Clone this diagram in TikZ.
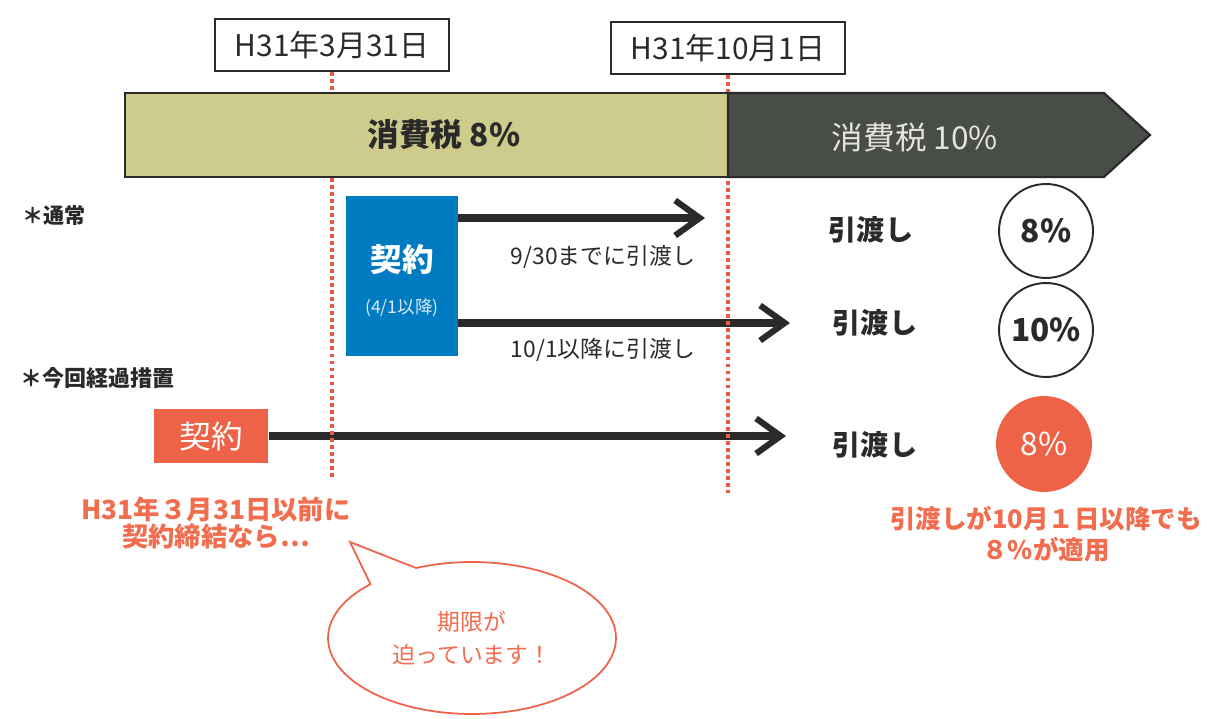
\documentclass[tikz,border=0pt]{standalone}
\usepackage{fontspec}
\setmainfont{Noto Sans CJK JP}
\usetikzlibrary{arrows.meta,shapes.callouts,positioning}
\definecolor{taxyellow}{RGB}{205,204,140}
\definecolor{taxdark}{RGB}{72,77,72}
\definecolor{contractblue}{RGB}{0,123,194}
\definecolor{contractorange}{RGB}{238,98,72}
\definecolor{noteorange}{RGB}{242,108,78}
\definecolor{dotred}{RGB}{236,88,70}
\definecolor{inkgray}{RGB}{42,42,42}

\begin{document}
\begin{tikzpicture}[x=0.02cm,y=-0.02cm,
    datebox/.style={draw=inkgray, line width=1.6pt, fill=white, text=inkgray, minimum width=4.68cm, minimum height=1.04cm, font=\fontsize{17pt}{20pt}\selectfont},
    flow/.style={draw=inkgray, line width=4pt, -{Straight Barb[length=14pt,width=20pt,line width=3.5pt]}},
    dotline/.style={dotred, line width=2.6pt, dash pattern=on 2.2pt off 1.8pt},
    handover/.style={text=inkgray, font=\fontsize{16pt}{19pt}\selectfont\bfseries},
    ratecircle/.style={circle, draw=inkgray, line width=1.1pt, minimum size=1.88cm, inner sep=0pt, text=inkgray, font=\fontsize{18pt}{20pt}\selectfont\bfseries},
    note/.style={align=center, text=noteorange, font=\fontsize{15pt}{15.5pt}\selectfont\bfseries}]

  \useasboundingbox (0,0) rectangle (1223,719);

  % date labels
  \node[datebox] (date1) at (332,45) {H31年3月31日};
  \node[datebox] (date2) at (728,48) {H31年10月1日};

  % contracts
  \node[fill=contractblue, minimum width=2.24cm, minimum height=3.22cm] (contract1) at (402,276) {};
  \node[text=white, font=\fontsize{18pt}{20pt}\selectfont\bfseries] (contract1txt) at (402,260) {契約};
  \node[text=white!85!contractblue, font=\fontsize{10pt}{12pt}\selectfont] (contract1date) at (402,308) {(4/1以降)};
  \node[fill=contractorange, minimum width=2.3cm, minimum height=1.08cm, text=white, font=\fontsize{18pt}{20pt}\selectfont] (contract2) at (211,436) {契約};

  % section headings
  \node[right, text=inkgray, font=\fontsize{12pt}{14pt}\selectfont\bfseries, inner sep=0pt] (normal) at (22,215) {＊通常};
  \node[right, text=inkgray, font=\fontsize{12.5pt}{14pt}\selectfont\bfseries, inner sep=0pt] (transition) at (20,378) {＊今回経過措置};

  % handover arrows
  \coordinate (end1) at (705,218);
  \coordinate (end2) at (790,323);
  \coordinate (end3) at (786,436);
  \draw[flow] (contract1.east |- end1) -- (end1);
  \draw[flow] (contract1.east |- end2) -- (end2);
  \draw[flow] (contract2.east) -- (end3);
  \node[text=inkgray, font=\fontsize{13pt}{15pt}\selectfont] (by930) at (603,257) {9/30までに引渡し};
  \node[text=inkgray, font=\fontsize{13pt}{15pt}\selectfont] (after101) at (603,350) {10/1以降に引渡し};

  % boundary lines
  \coordinate (dot1end) at (332,480);
  \coordinate (dot2end) at (728,493);
  \draw[dotline] (date1.south) -- (dot1end);
  \draw[dotline] (date2.south) -- (dot2end);

  % tax rate bar
  \draw[fill=taxyellow, draw=inkgray, line width=1.2pt] (125,93) rectangle (728,177);
  \draw[fill=taxdark, draw=inkgray, line width=1.2pt] (728,93) -- (1104,93) -- (1150,135) -- (1104,177) -- (728,177) -- cycle;
  \node[text=inkgray, font=\fontsize{18pt}{20pt}\selectfont\bfseries] (tax8) at (444,135) {消費税 8\%};
  \node[text={rgb,255:red,228;green,228;blue,218}, font=\fontsize{18pt}{20pt}\selectfont] (tax10) at (915,138) {消費税 10\%};

  % results
  \node[handover] (hand1) at (871,230) {引渡し};
  \node[handover] (hand2) at (875,323) {引渡し};
  \node[handover] (hand3) at (875,445) {引渡し};
  \node[ratecircle] (rate1) at (1046,231) {8\%};
  \node[ratecircle] (rate2) at (1046,330) {10\%};
  \node[ratecircle, fill=contractorange, draw=contractorange, text=white, font=\fontsize{18pt}{20pt}\selectfont] (rate3) at (1044,444) {8\%};

  % notes
  \node[note] (leftnote) at (216,523) {H31年３月31日以前に\\契約締結なら…};
  \node[note, font=\fontsize{14.5pt}{18pt}\selectfont\bfseries] (rightnote) at (1046,534) {引渡しが10月１日以降でも\\８\%が適用};

  % speech bubble
  \coordinate (bubbletip) at (350,542);
  \node[ellipse callout, draw=contractorange, line width=1pt, fill=white, minimum width=5.76cm, minimum height=3.04cm, callout absolute pointer={(bubbletip)}, callout pointer arc=22, align=center, text=noteorange, font=\fontsize{13pt}{19pt}\selectfont] (bubble) at (472,638) {期限が\\迫っています！};
\end{tikzpicture}
\end{document}
